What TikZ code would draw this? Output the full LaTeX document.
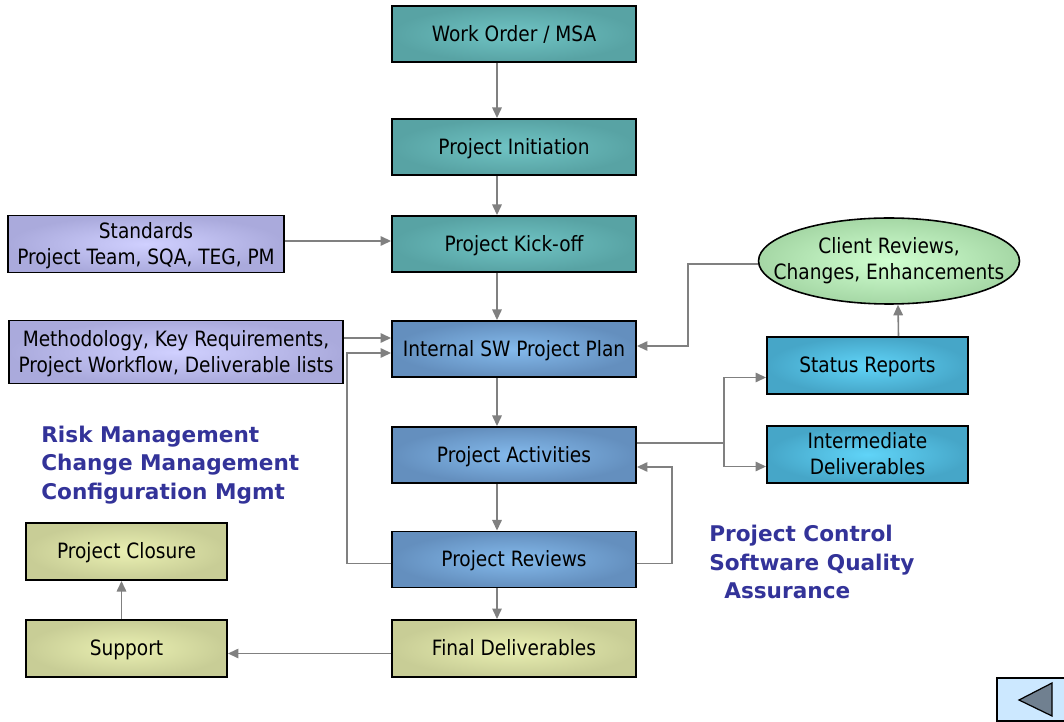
\documentclass[tikz,border=0pt]{standalone}
\usepackage{fontspec}
\setmainfont{DejaVu Sans}[FakeStretch=0.88]
\newfontfamily\notefont{DejaVu Sans}
\usetikzlibrary{shapes, calc, arrows.meta}
\definecolor{linegray}{RGB}{128,128,128}
\definecolor{tealout}{RGB}{88,163,164}
\definecolor{tealin}{RGB}{112,196,196}
\definecolor{blueout}{RGB}{100,143,190}
\definecolor{bluein}{RGB}{132,186,236}
\definecolor{cyanout}{RGB}{70,166,200}
\definecolor{cyanin}{RGB}{96,212,248}
\definecolor{lavout}{RGB}{170,170,220}
\definecolor{lavin}{RGB}{208,208,255}
\definecolor{oliveout}{RGB}{200,205,150}
\definecolor{olivein}{RGB}{234,240,178}
\definecolor{greenout}{RGB}{165,215,165}
\definecolor{greenin}{RGB}{208,255,208}
\definecolor{notecol}{RGB}{51,51,153}
\definecolor{btnfill}{RGB}{204,232,255}
\definecolor{btntri}{RGB}{112,128,144}

\begin{document}
\begin{tikzpicture}[x=0.02cm,y=-0.02cm,>={Triangle[length=6pt,width=5.4pt]}]
	\tikzset{boxtext/.style={align=center,font=\fontsize{12}{14.8}\selectfont},
		box/.style={boxtext,draw=black,line width=1.1pt,minimum width=4.88cm,minimum height=1.12cm,inner sep=1pt,text depth=0.6pt},
		tealbox/.style={box,inner color=tealin,outer color=tealout},
		bluebox/.style={box,inner color=bluein,outer color=blueout},
		cyanbox/.style={box,inner color=cyanin,outer color=cyanout,minimum width=4.02cm,minimum height=1.14cm},
		lavbox/.style={box,inner color=lavin,outer color=lavout},
		olivebox/.style={box,inner color=olivein,outer color=oliveout,minimum height=1.14cm},
		flow/.style={->,draw=linegray,line width=0.9pt},
		note/.style={font=\notefont\bfseries\fontsize{12.3}{16.2}\selectfont,text=notecol,align=left,inner sep=0pt,anchor=west}}
	\useasboundingbox (0,0) rectangle (1064,722);
	\node[tealbox] (wo) at (514,34) {Work Order / MSA};
	\node[tealbox] (init) at (514,147) {Project Initiation};
	\node[tealbox] (kick) at (514,244) {Project Kick-off};
	\node[bluebox] (plan) at (514,349) {Internal SW Project Plan};
	\node[bluebox] (act) at (514,455) {Project Activities};
	\node[bluebox] (rev) at (514,559.5) {Project Reviews};
	\node[olivebox] (fin) at (514,648.5) {Final Deliverables};
	\node[lavbox,minimum width=5.52cm,minimum height=1.14cm] (std) at (146,244) {Standards\\Project Team, SQA, TEG, PM};
	\node[lavbox,minimum width=6.68cm,minimum height=1.26cm] (meth) at (176,352) {Methodology, Key Requirements,\\Project Workflow, Deliverable lists};
	\node[olivebox,minimum width=4.02cm] (clos) at (126.5,551.5) {Project Closure};
	\node[olivebox,minimum width=4.02cm] (sup) at (126.5,648.5) {Support};
	\node[cyanbox] (stat) at (867.5,365.5) {Status Reports};
	\node[cyanbox] (inter) at (867.5,454.5) {Intermediate\\Deliverables};
	\node[ellipse,draw=black,line width=0.9pt,inner color=greenin,outer color=greenout,minimum width=5.22cm,minimum height=1.72cm,inner sep=0pt,
		label={[boxtext]center:{Client Reviews,\\Changes, Enhancements}}] (client) at (889,261) {};
	\node[note] (risk) at (41,465) {Risk Management\\Change Management\\Configuration Mgmt};
	\node[note] (ctrl) at (709,562) {Project Control\\Software Quality\\\hspace*{8.5pt}Assurance};
	\draw[flow] ($(wo.south)+(-17,0)$) -- ($(init.north)+(-17,0)$);
	\draw[flow] ($(init.south)+(-17,0)$) -- ($(kick.north)+(-17,0)$);
	\draw[flow] ($(kick.south)+(-17,0)$) -- ($(plan.north)+(-17,0)$);
	\draw[flow] ($(plan.south)+(-17,0)$) -- ($(act.north)+(-17,0)$);
	\draw[flow] ($(act.south)+(-17,0)$) -- ($(rev.north)+(-17,0)$);
	\draw[flow] ($(rev.south)+(-17,0)$) -- ($(fin.north)+(-17,0)$);
	\draw[flow] ($(std.east)+(0,-3)$) -- ($(kick.west)+(0,-3)$);
	\draw[flow] ($(meth.east)+(0,-14)$) -- ($(plan.west)+(0,-11)$);
	\draw[flow] ($(rev.west)+(0,4)$) -- ++(-44,0) |- ($(plan.west)+(0,4)$);
	\draw[flow] ($(rev.east)+(0,4)$) -- ++(35,0) |- ($(act.east)+(0,12)$);
	\draw[flow] ($(client.west)+(0,3)$) -- ++(-70,0) |- ($(plan.east)+(0,-3)$);
	\draw[flow] ($(act.east)+(0,-12)$) -- ++(87,0) |- ($(stat.west)+(0,12)$);
	\draw[flow] ($(act.east)+(87,-12)$) |- ($(inter.west)+(0,12)$);
	\draw[flow] ($(stat.north)+(31,0)$) -- ($(client.south)+(9,0)$);
	\draw[flow] ($(fin.west)+(0,5)$) -- ($(sup.east)+(0,5)$);
	\draw[flow] ($(sup.north)+(-5,0)$) -- ($(clos.south)+(-5,0)$);
	\draw[line width=0.7pt,fill=btnfill] (997,678) rectangle (1072,721);
	\draw[line width=0.7pt,fill=btntri] (1019,700) -- (1052,683) -- (1052,716) -- cycle;
\end{tikzpicture}
\end{document}
